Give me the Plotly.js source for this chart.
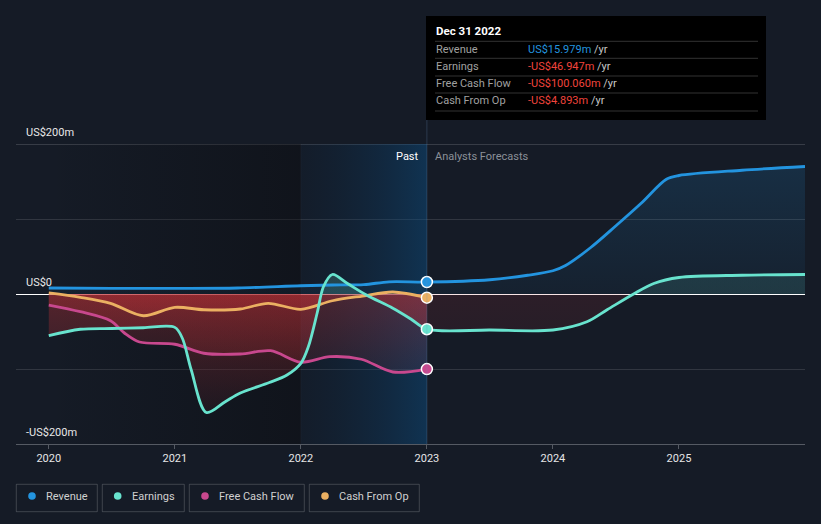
<!DOCTYPE html>
<html><head><meta charset="utf-8">
<script src="https://cdn.plot.ly/plotly-3.0.1.min.js"></script>
<style>html,body{margin:0;padding:0;background:#151b26;}#chart{width:821px;height:524px;}</style>
</head><body><div id="chart"></div>
<script>
// ---- data (US$ millions) ----
const revPastX = [2020, 2020.5, 2021, 2021.5, 2022, 2022.25, 2022.5, 2022.7, 2023];
const revPast  = [8, 7.5, 7.5, 8, 11, 12, 12.5, 16.3, 15.979];
const revFcX   = [2023, 2023.5, 2023.8, 2024, 2024.1, 2024.3, 2024.5, 2024.7, 2024.9, 2025, 2025.5, 2026];
const revFc    = [15.979, 19, 25, 31, 38, 62, 91, 121, 153, 158, 165, 170];

const earnPastX = [2020, 2020.25, 2020.5, 2020.75, 2021, 2021.06, 2021.13, 2021.25, 2021.4, 2021.52, 2021.75, 2021.89, 2022, 2022.06, 2022.13, 2022.18, 2022.25, 2022.37, 2022.52, 2022.73, 2022.87, 2023];
const earnPast  = [-55.6, -47, -46, -45, -44.5, -59, -101, -158, -143.6, -132, -118, -108, -92.4, -70, -25, 10, 26, 14, -1.3, -19, -33, -46.947];
const earnFcX   = [2023, 2023.5, 2024, 2024.27, 2024.43, 2024.64, 2024.8, 2025, 2025.5, 2026];
const earnFc    = [-46.947, -48, -48, -37, -21, 0, 14, 22, 25, 26];

const fcfX = [2020, 2020.25, 2020.49, 2020.6, 2020.72, 2021, 2021.23, 2021.52, 2021.76, 2022, 2022.23, 2022.48, 2022.73, 2023];
const fcf  = [-14.7, -23.6, -35.6, -52, -64, -67, -79, -80, -75.6, -91, -83.6, -87, -104, -100.06];

const cfoX = [2020, 2020.25, 2020.49, 2020.75, 2021, 2021.23, 2021.52, 2021.74, 2022, 2022.25, 2022.49, 2022.73, 2023];
const cfo  = [1.5, -4.4, -12.4, -29, -17.8, -21, -20, -12.4, -20.4, -9, -2.7, 2.7, -4.893];

const seriesNames = ['Revenue', 'Earnings', 'Free Cash Flow', 'Cash From Op'];
const xTicks = [2020, 2021, 2022, 2023, 2024, 2025];
const xTickText = ['2020', '2021', '2022', '2023', '2024', '2025'];
const yTicks = [-200, -100, 0, 100, 200];
const yLabelVals = [200, 0, -200];
const yLabelText = ['US$200m', 'US$0', '-US$200m'];
const tooltipDate = 'Dec 31 2022';

// ---- styles ----
const C = {rev: '#2394DF', earn: '#68E3CE', fcf: '#C8488E', cfo: '#EBB062'};
const colors = [C.rev, C.earn, C.fcf, C.cfo];
const FONT = 'Roboto, "Noto Sans", sans-serif';
const X0 = 2019.74, X1 = 2026.0;

function bgRect(xa, xb, cs) {
  return {x: [xa, xb, xb, xa, xa], y: [-200, -200, 200, 200, -200], mode: 'none', fill: 'toself',
    fillgradient: {type: 'horizontal', colorscale: cs, start: xa, stop: xb},
    hoverinfo: 'skip', showlegend: false};
}
function fillT(x, y, cs, start, stop) {
  return {x: x, y: y, mode: 'none', fill: 'tozeroy', line: {shape: 'spline', smoothing: 0.9, width: 0},
    fillgradient: {type: 'vertical', colorscale: cs, start: start, stop: stop},
    hoverinfo: 'skip', showlegend: false};
}
function redCs(start, stop, aLow, aHigh, posColor) {
  const f = (0 - start) / (stop - start);
  const cs = [[0, 'rgba(200,50,55,' + aLow + ')'], [Math.min(f, 1), 'rgba(200,50,55,' + aHigh + ')']];
  if (f < 1) { cs.push([f + 0.002, posColor]); cs.push([1, posColor]); }
  return cs;
}
function lineT(x, y, color, name) {
  return {x: x, y: y, mode: 'lines', name: name, line: {shape: 'spline', smoothing: 0.9, width: 2.8, color: color},
    hoverinfo: 'skip', showlegend: false};
}

const revAllX = revPastX.concat(revFcX.slice(1));
const revAll = revPast.concat(revFc.slice(1));
const earnAllX = earnPastX.concat(earnFcX.slice(1));
const earnAll = earnPast.concat(earnFc.slice(1));

const lastRev = revPast[revPast.length - 1];
const lastEarn = earnPast[earnPast.length - 1];
const lastFcf = fcf[fcf.length - 1];
const lastCfo = cfo[cfo.length - 1];

const traces = [
  bgRect(2020, 2022, [[0, 'rgba(8,8,10,0)'], [1, 'rgba(8,8,10,0.38)']]),
  bgRect(2022, 2023, [[0, 'rgba(10,40,70,0.12)'], [1, 'rgba(10,80,135,0.45)']]),
  fillT(revAllX, revAll, [[0, 'rgba(35,148,223,0.05)'], [1, 'rgba(35,148,223,0.16)']], 0, 170),
  fillT(earnPastX, earnPast, redCs(-160, 30, 0.06, 0.36, 'rgba(110,220,200,0.2)'), -160, 30),
  fillT(fcfX, fcf, redCs(-105, 0, 0.1, 0.3, 'rgba(0,0,0,0)'), -105, 0),
  fillT(cfoX, cfo, redCs(-30, 3, 0.2, 0.3, 'rgba(0,0,0,0)'), -30, 3),
  fillT(earnFcX, earnFc, redCs(-50, 30, 0.1, 0.13, 'rgba(104,227,206,0.12)'), -50, 30),
  lineT(revAllX, revAll, C.rev, 'Revenue'),
  lineT(cfoX, cfo, C.cfo, 'Cash From Op'),
  lineT(fcfX, fcf, C.fcf, 'Free Cash Flow'),
  lineT(earnAllX, earnAll, C.earn, 'Earnings'),
  {x: [2023, 2023, 2023, 2023], y: [lastRev, lastCfo, lastEarn, lastFcf], mode: 'markers',
   marker: {size: 11, color: [C.rev, C.cfo, C.earn, C.fcf], line: {color: '#ffffff', width: 1.5}},
   hoverinfo: 'skip', showlegend: false}
];

function px2paperX(px) { return (px - 16) / 789; }
function px2paperY(py) { return (444 - py) / 300; }
function fmt(v) { return (v < 0 ? '-US$' : 'US$') + Math.abs(v).toFixed(3) + 'm'; }

const shapes = [
  {type: 'line', xref: 'paper', yref: 'y', x0: 0, x1: 1, y0: 200, y1: 200, layer: 'below',
   line: {color: 'rgba(255,255,255,0.3)', width: 1}},
  {type: 'line', xref: 'x', yref: 'paper', x0: 2022, x1: 2022, y0: 0, y1: 1, layer: 'below',
   line: {color: 'rgba(255,255,255,0.04)', width: 1}},
  {type: 'line', xref: 'x', yref: 'paper', x0: 2023, x1: 2023, y0: 0, y1: px2paperY(120),
   line: {color: 'rgba(110,150,190,0.25)', width: 1}},
  {type: 'rect', xref: 'paper', yref: 'paper', x0: px2paperX(426), x1: px2paperX(766), y0: px2paperY(120), y1: px2paperY(16),
   fillcolor: '#000000', line: {width: 0}}
];
[41.3, 58.3, 76, 93, 111].forEach(function (py) {
  shapes.push({type: 'line', xref: 'paper', yref: 'paper', x0: px2paperX(435), x1: px2paperX(758), y0: px2paperY(py), y1: px2paperY(py),
    line: {color: '#333333', width: 1}});
});

const annotations = [];
yLabelVals.forEach(function (v, i) {
  annotations.push({xref: 'paper', yref: 'y', x: px2paperX(24), y: v, xanchor: 'left', yanchor: 'bottom', yshift: 3,
    text: yLabelText[i], showarrow: false, font: {family: FONT, size: 11, color: '#e8e8e8'}});
});
annotations.push({xref: 'x', yref: 'paper', x: 2023, y: px2paperY(156), xanchor: 'right', yanchor: 'middle', xshift: -6, text: 'Past',
  showarrow: false, font: {family: FONT, size: 11, color: '#ffffff'}});
annotations.push({xref: 'x', yref: 'paper', x: 2023, y: px2paperY(156), xanchor: 'left', yanchor: 'middle', xshift: 6, text: 'Analysts Forecasts',
  showarrow: false, font: {family: FONT, size: 11, color: '#8b9098'}});

// tooltip
annotations.push({xref: 'paper', yref: 'paper', x: px2paperX(434), y: px2paperY(31), xanchor: 'left', yanchor: 'middle',
  text: '<b>' + tooltipDate + '</b>', showarrow: false, font: {family: FONT, size: 11.5, color: '#ffffff'}});
const tipRows = [[seriesNames[0], lastRev, 49.3], [seriesNames[1], lastEarn, 66], [seriesNames[2], lastFcf, 83.7], [seriesNames[3], lastCfo, 100.7]];
tipRows.forEach(function (r, i) {
  annotations.push({xref: 'paper', yref: 'paper', x: px2paperX(434), y: px2paperY(r[2]), xanchor: 'left', yanchor: 'middle',
    text: r[0], showarrow: false, font: {family: FONT, size: 11, color: '#a0a0a0'}});
  const vc = r[1] < 0 ? '#F0443C' : '#2394DF';
  annotations.push({xref: 'paper', yref: 'paper', x: px2paperX(526), y: px2paperY(r[2]), xanchor: 'left', yanchor: 'middle',
    text: '<span style="color:' + vc + '">' + fmt(r[1]) + '</span> /yr', showarrow: false,
    font: {family: FONT, size: 11, color: '#c8c8c8'}});
});

// legend (boxes, dots, labels)
const legBoxes = [[16.3, 97.3], [102.3, 184.3], [189.3, 304.3], [309.3, 419.3]];
const legDots = [32, 117.7, 205, 325];
const legText = [44, 130, 217, 337];
seriesNames.forEach(function (n, i) {
  shapes.push({type: 'rect', xref: 'paper', yref: 'paper', x0: px2paperX(legBoxes[i][0]), x1: px2paperX(legBoxes[i][1]),
    y0: px2paperY(511.7), y1: px2paperY(484.3), line: {color: 'rgba(255,255,255,0.18)', width: 1}, fillcolor: 'rgba(0,0,0,0)'});
  shapes.push({type: 'circle', xref: 'paper', yref: 'paper', xsizemode: 'pixel', ysizemode: 'pixel',
    xanchor: px2paperX(legDots[i]), yanchor: px2paperY(496), x0: -3.8, x1: 3.8, y0: -3.8, y1: 3.8,
    fillcolor: colors[i], line: {width: 0}});
  annotations.push({xref: 'paper', yref: 'paper', x: px2paperX(legText[i]), y: px2paperY(496), xanchor: 'left', yanchor: 'middle',
    text: n, showarrow: false, font: {family: FONT, size: 11, color: '#d0d0d0'}});
});

const layout = {
  width: 821, height: 524,
  paper_bgcolor: '#151b26', plot_bgcolor: '#151b26',
  margin: {l: 16, r: 16, t: 144, b: 80},
  showlegend: false,
  font: {family: FONT, size: 11, color: '#e0e0e0'},
  xaxis: {range: [X0, X1], tickvals: xTicks, ticktext: xTickText, showgrid: false, zeroline: false,
    showline: true, linecolor: '#555a63', linewidth: 1, ticks: 'outside', ticklen: 4, tickcolor: '#555a63',
    tickfont: {family: FONT, size: 11, color: '#e6e6e6'}, fixedrange: true},
  yaxis: {range: [-200, 200], tickvals: yTicks, showticklabels: false, showgrid: true,
    gridcolor: 'rgba(255,255,255,0.12)', gridwidth: 1, zeroline: true, zerolinecolor: '#ffffff', zerolinewidth: 1,
    showline: false, fixedrange: true},
  shapes: shapes,
  annotations: annotations
};

Plotly.newPlot('chart', traces, layout, {staticPlot: true, displayModeBar: false});
</script>
</body></html>
